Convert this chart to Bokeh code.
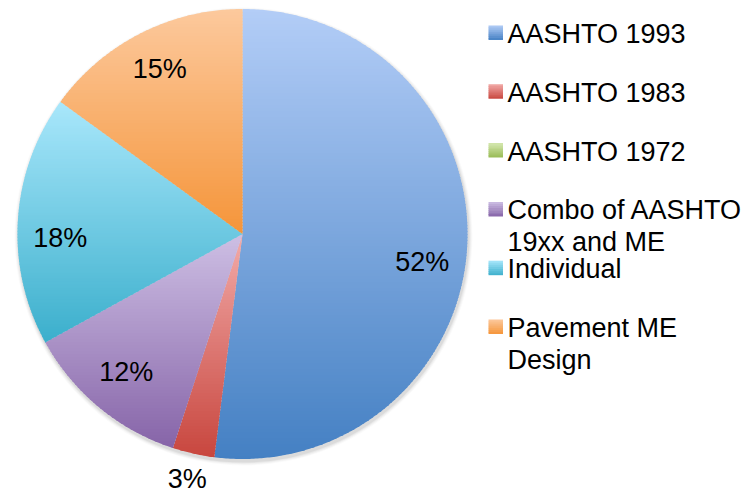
import numpy as np
from bokeh.plotting import figure
from bokeh.models import Range1d
from bokeh.core.properties import value
from bokeh.embed import file_html
from bokeh.resources import INLINE

# ---------------- data ----------------
categories = ["AASHTO 1993", "AASHTO 1983", "AASHTO 1972",
              "Combo of AASHTO\n19xx and ME", "Individual", "Pavement ME\nDesign"]
shares = [52, 3, 0, 12, 18, 15]
top_colors = ["#B3CDF7", "#F2ABA9", "#D4E7AE", "#CDBFE4", "#A9E7FB", "#FCC99D"]
bottom_colors = ["#4480C3", "#C8463E", "#98BB55", "#8664A8", "#3BAFCC", "#F5953A"]

# ---------------- layout ----------------
W, H = 742, 496
CX, CY, R = 242.0, 233.5, 225.0
FONT = value("Liberation Sans")
FSIZE = value("27px")

p = figure(width=W, height=H, x_range=Range1d(0, W), y_range=Range1d(H, 0),
           output_backend="svg", toolbar_location=None, min_border=0,
           x_axis_location=None, y_axis_location=None)
p.grid.visible = False
p.outline_line_color = None
p.background_fill_color = "white"
p.border_fill_color = "white"


def hex2rgb(h):
    h = h.lstrip("#")
    return np.array([int(h[i:i + 2], 16) for i in (0, 2, 4)], dtype=float)


def mix(c0, c1, t):
    c = hex2rgb(c0) * (1 - t) + hex2rgb(c1) * t
    return "#%02x%02x%02x" % tuple(int(round(v)) for v in c)


def clip_half(poly, y0, keep_above):
    out = []
    n = len(poly)
    for i in range(n):
        a = poly[i]
        b = poly[(i + 1) % n]
        ina = (a[1] >= y0) if keep_above else (a[1] <= y0)
        inb = (b[1] >= y0) if keep_above else (b[1] <= y0)
        if ina:
            out.append(a)
        if ina != inb:
            t = (y0 - a[1]) / (b[1] - a[1])
            out.append((a[0] + t * (b[0] - a[0]), y0))
    return out


# shadow
for i, a in enumerate([0.05, 0.04, 0.03, 0.02]):
    p.circle(x=[CX + 1], y=[CY + 2.5], radius=R + 1 + i, fill_color="#000000",
             fill_alpha=a, line_color=None)

# pie wedges with vertical gradients
total = float(sum(shares))
cum = np.concatenate([[0], np.cumsum(shares)]) / total
xs_all, ys_all, cols_all = [], [], []
for k, s in enumerate(shares):
    if s <= 0:
        continue
    f0, f1 = cum[k], cum[k + 1]
    angs = np.linspace(f0, f1, max(int((f1 - f0) * 720), 4)) * 2 * np.pi
    pts = [(CX, CY)] + [(CX + R * np.sin(a), CY - R * np.cos(a)) for a in angs]
    ys = [pt[1] for pt in pts]
    ymin, ymax = min(ys), max(ys)
    step = 3.0
    y = ymin
    while y < ymax:
        band = clip_half(pts, y, True)
        if band:
            band = clip_half(band, min(y + step + 1.0, ymax), False)
        if len(band) >= 3:
            t = (y + step / 2 - ymin) / (ymax - ymin)
            xs_all.append([b[0] for b in band])
            ys_all.append([b[1] for b in band])
            cols_all.append(mix(top_colors[k], bottom_colors[k], min(max(t, 0), 1)))
        y += step

p.patches(xs=xs_all, ys=ys_all, fill_color=cols_all, line_color=None)

# data labels
label_nudge_deg = [6.0, 0.0, 0.0, 0.0, -5.5, 0.0]
LABEL_DY = -2.5
lx, ly, lt = [], [], []
for k, s in enumerate(shares):
    if s <= 0:
        continue
    mid = (cum[k] + cum[k + 1]) / 2 * 360 + label_nudge_deg[k]
    rf = 0.81 if s >= 5 else 1.127
    a = np.deg2rad(mid)
    lx.append(CX + rf * R * np.sin(a))
    ly.append(CY - rf * R * np.cos(a) + LABEL_DY)
    lt.append("%d%%" % s)
p.text(x=lx, y=ly, text=lt, text_font=FONT, text_font_size=FSIZE,
       text_align="center", text_baseline="middle", text_color="#000000")

# legend
LEG_SQ_X, LEG_SQ = 488.0, 14.5
LEG_TX = 507.0
LEG_Y0, LEG_DY, LINE_DY = 43.5, 58.8, 32.0
BASELINE_FIX = -10.0
tx, ty, tt = [], [], []
ql, qr, qt, qb, qc = [], [], [], [], []
for i, name in enumerate(categories):
    base = LEG_Y0 + i * LEG_DY
    for j, line in enumerate(name.split("\n")):
        tx.append(LEG_TX)
        ty.append(base + j * LINE_DY + BASELINE_FIX)
        tt.append(line)
    top = base - 18.5
    nstrip = 7
    for j in range(nstrip):
        y0 = top + j * LEG_SQ / nstrip
        ql.append(LEG_SQ_X)
        qr.append(LEG_SQ_X + LEG_SQ)
        qt.append(y0)
        qb.append(min(y0 + LEG_SQ / nstrip + 0.6, top + LEG_SQ))
        qc.append(mix(top_colors[i], bottom_colors[i], (j + 0.5) / nstrip))
p.quad(left=ql, right=qr, top=qt, bottom=qb, fill_color=qc, line_color=None)
p.text(x=tx, y=ty, text=tt, text_font=FONT, text_font_size=FSIZE,
       text_align="left", text_baseline="alphabetic", text_color="#000000")

open("out.html", "w").write(file_html(p, INLINE))
